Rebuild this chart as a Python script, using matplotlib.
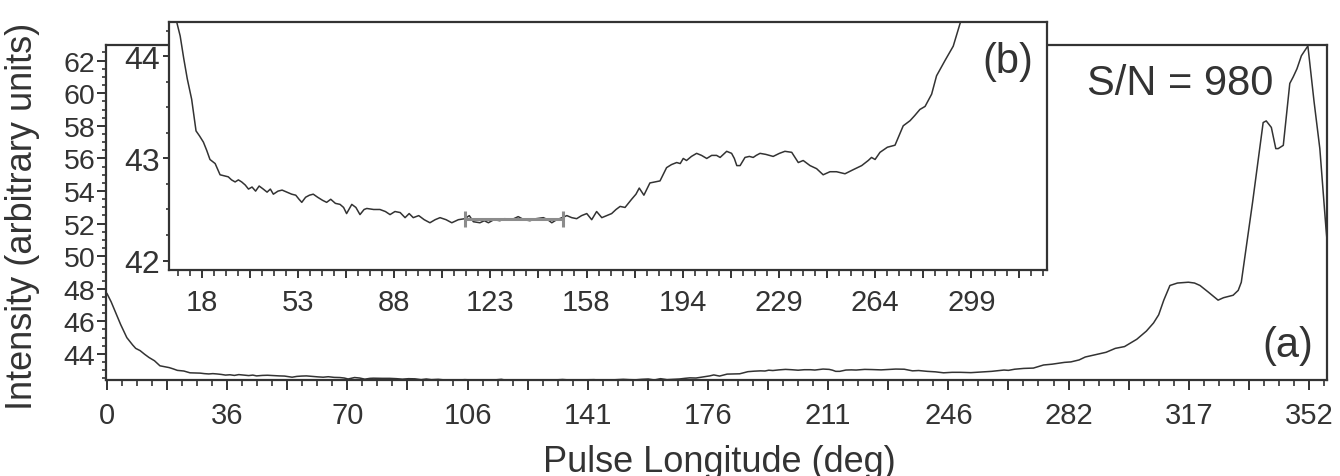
import numpy as np
import matplotlib
matplotlib.use("Agg")
import matplotlib.pyplot as plt
from matplotlib.ticker import MultipleLocator

# pulse profile (deg, arbitrary units)
longitude = [
    0.0, 1.2, 2.4, 4.0, 5.8, 7.5, 8.4, 9.7, 11.0, 12.3, 13.9, 15.5, 16.8, 18.2,
    19.4, 20.6, 22.5, 24.3, 25.8, 27.3, 28.5, 29.8, 31.0, 32.2, 33.5, 34.7,
    36.0, 37.3, 38.6, 40.1, 41.5, 42.7, 43.8, 45.5, 47.0, 48.7, 50.5, 52.0,
    53.2, 54.2, 55.6, 57.0, 58.4, 60.0, 61.8, 63.3, 64.8, 66.5, 68.2, 69.5,
    70.6, 72.5, 74.0, 75.5, 77.0, 78.0, 80.5, 82.8, 84.8, 86.5, 88.3, 90.2,
    92.0, 93.5, 95.0, 97.0, 99.0, 101.1, 103.0, 104.8, 107.0, 109.1, 111.5,
    113.9, 115.5, 117.0, 119.4, 121.0, 122.5, 124.5, 126.7, 128.5, 131.0,
    133.4, 135.5, 137.7, 140.0, 142.6, 144.2, 145.7, 147.5, 149.5, 151.2,
    153.0, 154.8, 156.6, 158.5, 160.3, 162.1, 164.0, 165.8, 167.6, 169.2,
    170.7, 172.5, 174.9, 176.5, 177.7, 179.4, 181.6, 183.5, 185.3, 187.7,
    189.5, 191.4, 192.7, 193.8, 195.0, 196.8, 198.7, 200.5, 202.4, 204.2,
    206.0, 207.3, 209.7, 211.5, 212.5, 213.4, 214.6, 216.4, 218.0, 219.4,
    220.5, 221.9, 224.0, 226.7, 229.0, 231.0, 233.5, 235.9, 237.7, 240.2,
    242.6, 245.0, 247.5, 249.9, 253.0, 256.0, 259.1, 261.5, 262.7, 264.0,
    265.8, 268.5, 271.3, 274.3, 276.8, 278.5, 280.4, 282.3, 284.7, 286.5,
    289.6, 292.6, 295.3, 298.0, 301.6, 304.4, 306.5, 308.0, 309.5, 311.3,
    313.5, 316.7, 318.5, 320.1, 322.5, 325.4, 327.0, 329.8, 331.3, 332.2,
    335.5, 338.6, 339.5, 341.0, 342.3, 343.0, 344.5, 346.4, 347.4, 348.5,
    349.8, 351.7, 353.5, 355.2, 357.0, 357.3,
]
intensity = [
    47.7, 47.2, 46.6, 45.8, 45.0, 44.55, 44.34, 44.2, 43.98, 43.78, 43.58, 43.27,
    43.22, 43.16, 43.08, 42.99, 42.95, 42.84, 42.83, 42.82, 42.79, 42.77, 42.79,
    42.77, 42.74, 42.70, 42.72, 42.68, 42.73, 42.70, 42.67, 42.70, 42.65, 42.68,
    42.69, 42.67, 42.65, 42.64, 42.60, 42.57, 42.62, 42.64, 42.65, 42.62, 42.59,
    42.57, 42.60, 42.56, 42.55, 42.52, 42.46, 42.55, 42.52, 42.45, 42.50, 42.51,
    42.50, 42.50, 42.48, 42.45, 42.48, 42.47, 42.42, 42.46, 42.42, 42.44, 42.40,
    42.37, 42.40, 42.42, 42.40, 42.37, 42.40, 42.41, 42.44, 42.38, 42.37, 42.39,
    42.37, 42.40, 42.39, 42.41, 42.40, 42.43, 42.40, 42.39, 42.41, 42.42, 42.40,
    42.37, 42.40, 42.42, 42.44, 42.42, 42.41, 42.44, 42.46, 42.40, 42.48, 42.42,
    42.44, 42.46, 42.50, 42.53, 42.52, 42.60, 42.65, 42.71, 42.64, 42.76, 42.77,
    42.78, 42.91, 42.94, 42.96, 42.95, 43.00, 42.98, 43.02, 43.05, 43.03, 43.00,
    43.03, 43.03, 43.01, 43.07, 43.05, 43.00, 42.93, 42.93, 43.01, 43.02, 43.01,
    43.03, 43.05, 43.04, 43.02, 43.05, 43.07, 43.06, 42.96, 42.98, 42.93, 42.90,
    42.84, 42.87, 42.87, 42.85, 42.89, 42.93, 42.98, 43.01, 42.99, 43.06, 43.11,
    43.13, 43.32, 43.37, 43.42, 43.48, 43.51, 43.63, 43.81, 43.96, 44.10, 44.34,
    44.45, 44.9, 45.4, 45.9, 46.4, 47.3, 48.2, 48.35, 48.4, 48.35, 48.2, 47.8,
    47.3, 47.45, 47.6, 47.9, 48.4, 53.3, 58.2, 58.3, 57.9, 56.6, 56.6, 56.8,
    60.6, 61.0, 61.5, 62.3, 62.9, 59.5, 56.6, 51.7, 51.0,
]

# off-pulse window used for the noise estimate
offpulse_center = 131.9
offpulse_halfwidth = 18.0
offpulse_level = 42.41

main_xlabels = ["0", "36", "70", "106", "141", "176", "211", "246", "282", "317", "352"]
inset_xlabels = ["18", "53", "88", "123", "158", "194", "229", "264", "299"]
sn_text = "S/N = 980"

ink = "#333333"
plt.rcParams["font.family"] = ["Liberation Sans", "DejaVu Sans"]
plt.rcParams["text.color"] = ink

fig = plt.figure(figsize=(13.4, 4.77), dpi=100)

# ── main panel (a) ────────────────────────────────────────────────────────────
ax = fig.add_axes([0.0791, 0.2013, 0.9112, 0.7023])
ax.plot(longitude, intensity, color=ink, lw=1.1)
ax.set_xlim(-0.3, 357.3)
ax.set_ylim(42.4, 62.96)

step = 35.2
ax.set_xticks(np.arange(len(main_xlabels) * 2 - 1) * step / 2)
ax.set_xticklabels([lab for pair in zip(main_xlabels, [""] * len(main_xlabels)) for lab in pair][:-1])
ax.xaxis.set_minor_locator(MultipleLocator(step / 8))
ax.set_yticks(np.arange(44, 63, 2))
ax.yaxis.set_minor_locator(MultipleLocator(0.5))

ax.tick_params(axis="x", which="major", direction="out", length=7, width=1.4,
               color=ink, labelcolor=ink, labelsize=21, pad=8)
ax.tick_params(axis="x", which="minor", direction="out", length=4, width=1.2, color=ink)
ax.tick_params(axis="y", which="major", direction="out", length=6.5, width=1.4,
               color=ink, labelcolor=ink, labelsize=20.5, pad=1)
ax.tick_params(axis="y", which="minor", direction="out", length=3, width=1.2, color=ink)
for s in ax.spines.values():
    s.set_color(ink)
    s.set_linewidth(1.6)

ax.set_xlabel("Pulse Longitude (deg)", fontsize=26, color=ink)
ax.xaxis.set_label_coords(0.502, -0.19)
ax.xaxis.label.set_va("top")
ax.set_ylabel("Intensity (arbitrary units)", fontsize=26, color=ink)
ax.yaxis.set_label_coords(-0.054, 0.49)

ax.text(0.9558, 0.8866, sn_text, transform=ax.transAxes, ha="right", va="center",
        fontsize=30, color=ink)
ax.text(0.9885, 0.1045, "(a)", transform=ax.transAxes, ha="right", va="center",
        fontsize=30, color=ink)

# ── inset (b): zoom on the baseline ───────────────────────────────────────────
axin = fig.add_axes([0.1261, 0.4325, 0.6550, 0.5199])
axin.set_facecolor("white")
axin.plot(longitude, intensity, color=ink, lw=1.1)
axin.errorbar(offpulse_center, offpulse_level, xerr=offpulse_halfwidth,
              color="#8c8c8c", lw=2.2, capsize=6, capthick=2.2)
axin.set_xlim(5.6, 326.8)
axin.set_ylim(41.91, 44.34)

axin.set_xticks(np.arange(len(inset_xlabels) * 2) * step / 2 + step / 2)
axin.set_xticklabels([lab for pair in zip(inset_xlabels, [""] * len(inset_xlabels)) for lab in pair])
axin.xaxis.set_minor_locator(MultipleLocator(step / 8))
axin.set_yticks([42, 43, 44])
axin.yaxis.set_minor_locator(MultipleLocator(0.25))

axin.tick_params(axis="x", which="major", direction="out", length=6, width=1.4,
                 color=ink, labelcolor=ink, labelsize=21, pad=7)
axin.tick_params(axis="x", which="minor", direction="out", length=4, width=1.2, color=ink)
axin.tick_params(axis="y", which="major", direction="out", length=4.5, width=1.4,
                 color=ink, labelcolor=ink, labelsize=23, pad=2)
axin.tick_params(axis="y", which="minor", direction="out", length=2.5, width=1.2, color=ink)
for s in axin.spines.values():
    s.set_color(ink)
    s.set_linewidth(1.6)

axin.text(0.9844, 0.8415, "(b)", transform=axin.transAxes, ha="right", va="center",
          fontsize=30, color=ink)

fig.savefig("out.png", dpi=100)
